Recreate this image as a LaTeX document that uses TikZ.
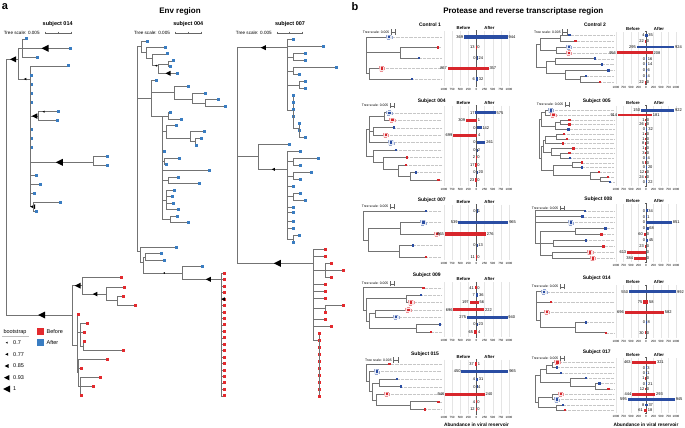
\documentclass[tikz,border=0pt]{standalone}
\usepackage{fontspec}
\setmainfont{Liberation Sans}
\definecolor{abl}{HTML}{3A7DC2}
\definecolor{ard}{HTML}{E32A2E}
\definecolor{bbl}{HTML}{2A4DA3}
\definecolor{brd}{HTML}{D8262C}
\newcounter{lf}
\newcommand{\bsc}{0.0325}
\newcommand{\gx}{441.5}
\newcommand{\bhh}{1.6}
% elbow to an inner node
\newcommand{\cla}[4]{\draw[br] (#1,#2) |- (#3,#4);}
% elbow to a leaf, panel a
\newcommand{\lfa}[5]{\draw[br] (#1,#2) |- (#3,#4);
  \stepcounter{lf}\node[leaf,fill=#5] (lf\thelf) at (#3,#4) {};}
% elbow to a leaf, panel b (plain and boxed)
\newcommand{\lfb}[5]{\draw[guide] (#3,#4) -- (\gx,#4);
  \draw[br] (#1,#2) |- (#3,#4);
  \stepcounter{lf}\node[sleaf,fill=#5] (lf\thelf) at (#3,#4) {};}
\newcommand{\lfbx}[5]{\draw[guide] (#3,#4) -- (\gx,#4);
  \draw[br] (#1,#2) |- (#3,#4);
  \draw[hbox,draw=#5!50,fill=#5!12] (#3-2.7,#4-2.2) rectangle (#3+2.7,#4+2.2);
  \stepcounter{lf}\node[sleaf,fill=#5] (lf\thelf) at (#3,#4) {};}
% bootstrap triangle
\newcommand{\btri}[3]{\fill (#1-#3/2,#2) -- (#1+#3/2,#2-#3/2) -- (#1+#3/2,#2+#3/2) -- cycle;}
% one bar: zero, y, before, after
\newcommand{\brow}[4]{%
  \pgfmathsetmacro{\xlb}{#1-#3*\bsc-0.5*(#3>0)}%
  \pgfmathsetmacro{\xrb}{#1+#4*\bsc+0.5*(#4>0)}%
  \ifnum#3>#4\relax\def\bcol{brd}\else\def\bcol{bbl}\fi
  \fill[fill=\bcol] (\xlb,#2-\bhh) rectangle (\xrb,#2+\bhh);
  \node[val,anchor=east] (vb) at (\xlb-0.7,#2) {#3};
  \node[val,anchor=west] (va) at (\xrb+0.7,#2) {#4};}
% bar frame: zero, heading y, tick y
\newcommand{\barax}[3]{%
  \foreach \k in {-4,...,4} {\draw[gline] ({\k*250*\bsc+#1},#2+3) -- ({\k*250*\bsc+#1},#3-3.5);}
  \foreach \k/\t in {-4/1000,-3/750,-2/500,-1/250,0/0,1/250,2/500,3/750,4/1000}
    {\node[ticklab] (tk\k) at ({\k*250*\bsc+#1},#3) {\t};}
  \draw[zaxis] (#1-0.9,#2+2.5) -- (#1+0.9,#2+2.5) (#1,#2+2.5) -- (#1,#3-3)
    (#1-0.9,#3-3) -- (#1+0.9,#3-3);
  \node[hd] (bf) at (#1-13,#2) {Before};
  \node[hd] (af) at (#1+13,#2) {After};}
\newcommand{\tsc}[2]{\node[tsc,anchor=west] (ts) at (#1,#2) {Tree scale: 0.005};
  \draw[scb,|-|] ([xshift=1.2pt]ts.east) -- ++(5,0);}
\newcommand{\tsbar}[3]{\draw[scb] (#1,#3) -- (#2,#3);
  \foreach \t in {#1,(#1+#2)/2,#2} {\draw[scb] ({\t},#3-1) -- ({\t},#3+1);}}

\begin{document}
\begin{tikzpicture}[x=1pt,y=-1pt,
    br/.style={draw=black!55,line width=0.55pt},
    leaf/.style={rectangle,inner sep=0pt,minimum size=3pt},
    sleaf/.style={rectangle,inner sep=0pt,minimum size=2.4pt},
    guide/.style={draw=black!22,densely dotted,line width=0.3pt},
    hbox/.style={densely dashed,line width=0.3pt},
    gline/.style={draw=black!10,line width=0.35pt},
    zaxis/.style={draw=black!65,line width=0.45pt},
    scb/.style={draw=black!60,line width=0.3pt},
    val/.style={inner sep=0pt,font=\fontsize{4}{4}\selectfont},
    ticklab/.style={inner sep=0pt,font=\fontsize{3}{3}\selectfont},
    hd/.style={inner sep=0pt,font=\bfseries\fontsize{4.3}{4.3}\selectfont},
    ttl/.style={inner sep=0pt,font=\bfseries\fontsize{5}{5}\selectfont},
    tsc/.style={inner sep=0pt,font=\fontsize{3.4}{3.4}\selectfont},
    tsa/.style={inner sep=0pt,font=\fontsize{4.6}{4.6}\selectfont},
    sub/.style={inner sep=0pt,font=\bfseries\fontsize{5.5}{5.5}\selectfont},
    hdr/.style={inner sep=0pt,font=\bfseries\fontsize{8}{8}\selectfont},
    plab/.style={inner sep=0pt,font=\bfseries\fontsize{11}{11}\selectfont},
    leg/.style={inner sep=0pt,font=\fontsize{5.5}{5.5}\selectfont},
    lgsq/.style={rectangle,inner sep=0pt,minimum size=7pt}]
\useasboundingbox (0,0) rectangle (685,428);

% ---------------- panel a ----------------
\node[plab] (pa) at (5,7) {a};
\node[hdr] (ha) at (180,11.7) {Env region};
\node[sub] (s14) at (57.7,24) {subject 014};
\node[sub] (s04) at (188.3,24) {subject 004};
\node[sub] (s07) at (290,24) {subject 007};
\node[tsa] (ts14) at (21.7,32.7) {Tree scale: 0.005};
\node[tsa] (ts04) at (152,32.7) {Tree scale: 0.005};
\node[tsa] (ts07) at (253.8,32.7) {Tree scale: 0.005};
\tsbar{45}{70.7}{32.7}
\tsbar{175}{200.7}{32.7}
\tsbar{276.7}{302.3}{32.7}

% subject 014
\cla{6.7}{187}{18.3}{59.3} \btri{13}{59.3}{6}
\cla{18.3}{59.3}{22.3}{48.3}
\lfa{22.3}{48.3}{26}{39}{abl} \lfa{22.3}{48.3}{70}{48.3}{abl} \btri{45}{48.3}{7}
\lfa{22.3}{48.3}{37.7}{57.3}{abl}
\cla{18.3}{59.3}{30.7}{79} \btri{25}{79}{2.5}
\lfa{30.7}{79}{68.3}{66}{abl}
\foreach \y in {75,84.3,93.3,102.3,129.3,138.3,147.7} {\lfa{30.7}{79}{31.2}{\y}{abl}}
\cla{30.7}{79}{38}{116} \btri{34.5}{116}{5.5}
\lfa{38}{116}{58.3}{111.7}{abl} \btri{43.5}{111.7}{2} \lfa{38}{116}{57.3}{120.7}{abl}
\cla{30.7}{79}{93.3}{162.3} \btri{59.3}{162.3}{7}
\lfa{93.3}{162.3}{107.3}{156.7}{abl} \lfa{93.3}{162.3}{107.3}{165.7}{abl}
\lfa{30.7}{79}{36.7}{175}{abl} \lfa{30.7}{79}{40}{184}{abl} \lfa{30.7}{79}{34}{193}{abl}
\cla{30.7}{79}{33.5}{206.7} \btri{32.7}{206.7}{5}
\lfa{33.5}{206.7}{60.7}{202}{abl} \lfa{33.5}{206.7}{36.7}{211}{abl}
\cla{6.7}{187}{72.3}{315} \btri{41.7}{315}{7}
\cla{72.3}{315}{82.3}{285.7} \btri{77.7}{285.7}{6}
\lfa{82.3}{285.7}{121}{277.3}{ard}
\cla{82.3}{285.7}{106}{294} \btri{95}{294}{4.5}
\lfa{106}{294}{124.3}{287}{ard}
\cla{106}{294}{117.3}{300.5}
\lfa{117.3}{300.5}{123.3}{296}{ard} \lfa{117.3}{300.5}{135.3}{305}{ard}
\cla{72.3}{315}{77.3}{345}
\lfa{77.3}{345}{78}{314.3}{ard}
\cla{77.3}{345}{80}{332}
\lfa{80}{332}{87.3}{323.3}{ard} \lfa{80}{332}{84}{332.3}{ard}
\cla{80}{332}{83.3}{345.8}
\lfa{83.3}{345.8}{84}{341.3}{ard} \lfa{83.3}{345.8}{123.7}{350.3}{ard}
\cla{77.3}{345}{78.5}{372}
\lfa{78.5}{372}{107.3}{359.7}{ard} \lfa{78.5}{372}{81}{368.7}{ard}
\cla{78.5}{372}{80.5}{386.7}
\lfa{80.5}{386.7}{100}{377.7}{ard} \lfa{80.5}{386.7}{93}{386.7}{ard} \lfa{80.5}{386.7}{81.7}{395.7}{ard}

% subject 004
\cla{137.3}{150}{141.7}{46.7} \cla{137.3}{150}{151.7}{98.3} \cla{137.3}{150}{140}{251}
\lfa{141.7}{46.7}{147.3}{41.7}{abl} \cla{141.7}{46.7}{146.7}{52.7}
\lfa{146.7}{52.7}{165}{47.7}{abl} \cla{146.7}{52.7}{152.7}{58}
\lfa{152.7}{58}{167.3}{54}{abl} \cla{152.7}{58}{158.3}{65.7} \btri{156}{65.7}{2}
\cla{158.3}{65.7}{168.3}{63.8}
\lfa{168.3}{63.8}{173.3}{61}{abl} \lfa{168.3}{63.8}{170}{66.7}{abl}
\lfa{158.3}{65.7}{177.3}{73.3}{abl} \btri{168}{73.3}{5}
\lfa{151.7}{98.3}{156.7}{80.3}{abl}
\cla{151.7}{98.3}{174}{92.3}
\lfa{174}{92.3}{188.3}{86.7}{abl} \cla{174}{92.3}{192.7}{99.5}
\lfa{192.7}{99.5}{205}{93.7}{abl} \cla{192.7}{99.5}{205}{103}
\lfa{205}{103}{218.3}{99.7}{abl} \lfa{205}{103}{225.3}{106.3}{abl}
\cla{151.7}{98.3}{162.3}{116.7}
\cla{162.3}{116.7}{168}{115.8}
\lfa{168}{115.8}{170.3}{112.7}{abl} \lfa{168}{115.8}{181.7}{119}{abl}
\cla{162.3}{116.7}{166.7}{131}
\lfa{166.7}{131}{176.7}{125.7}{abl} \cla{166.7}{131}{190}{138}
\lfa{190}{138}{204}{131.7}{abl} \cla{190}{138}{195}{141.5}
\lfa{195}{141.5}{201.3}{138}{abl} \lfa{195}{141.5}{196.7}{145}{abl}
\lfa{162.3}{116.7}{164.3}{151.7}{abl}
\cla{162.3}{116.7}{164.5}{161}
\lfa{164.5}{161}{179}{158}{abl} \lfa{164.5}{161}{166}{164.3}{abl}
\lfa{162.3}{116.7}{209.3}{170.7}{abl}
\cla{162.3}{116.7}{168}{180.5}
\lfa{168}{180.5}{178.3}{177.3}{abl} \lfa{168}{180.5}{199}{183.7}{abl}
\cla{162.3}{116.7}{166}{200}
\foreach \x/\y in {174/190.3,172.7/196.7,173.3/203.3,178.3/209.7} {\lfa{166}{200}{\x}{\y}{abl}}
\cla{162.3}{116.7}{170}{219.5}
\lfa{170}{219.5}{177.7}{216.7}{abl} \lfa{170}{219.5}{188.3}{222.3}{abl}
\lfa{140}{251}{176}{247}{abl}
\cla{140}{251}{143.3}{262}
\cla{143.3}{262}{145}{256.8}
\lfa{145}{256.8}{161.3}{253.7}{abl} \lfa{145}{256.8}{164.3}{260}{abl}
\cla{143.3}{262}{182.7}{273} \btri{164}{273}{1.6}
\lfa{182.7}{273}{202.3}{266.3}{abl}
\cla{182.7}{273}{221.7}{279.3} \btri{208.3}{279.3}{5}
\foreach \i in {0,...,19} {\lfa{221.7}{279.3}{224}{273.3+6.45*\i}{ard}}
\btri{223}{299}{3.5}

% subject 007
\cla{237.3}{160}{287.3}{47.7} \btri{263.3}{47.7}{5}
\cla{237.3}{160}{258.3}{156}
\cla{237.3}{160}{313.3}{263.3} \btri{277.3}{263.3}{7}
\lfa{287.3}{47.7}{293.3}{39.3}{abl} \lfa{287.3}{47.7}{323.3}{46.3}{abl}
\cla{287.3}{47.7}{293.3}{56.8}
\lfa{293.3}{56.8}{305.3}{53.3}{abl} \lfa{293.3}{56.8}{305.3}{60.3}{abl}
\cla{287.3}{47.7}{293.3}{70.8}
\lfa{293.3}{70.8}{336}{67.3}{abl} \lfa{293.3}{70.8}{299}{74.3}{abl}
\cla{287.3}{47.7}{299.3}{84.8}
\lfa{299.3}{84.8}{305.3}{81.3}{abl} \lfa{299.3}{84.8}{305.3}{88.3}{abl}
\cla{287.3}{47.7}{293.3}{110}
\foreach \y in {95.3,102.3,109.3,116.3} {\lfa{293.3}{110}{293.6}{\y}{abl}}
\cla{293.3}{110}{299}{128}
\lfa{299}{128}{299.6}{123.3}{abl} \lfa{299}{128}{299.6}{130.3}{abl} \lfa{299}{128}{305.3}{137}{abl}
\lfa{258.3}{156}{289.3}{144.3}{abl}
\cla{258.3}{156}{287.3}{169.3} \btri{273.3}{169.3}{3}
\lfa{287.3}{169.3}{300}{151.7}{abl}
\cla{287.3}{169.3}{293.3}{161.6}
\lfa{293.3}{161.6}{318.3}{158.3}{abl} \lfa{293.3}{161.6}{300}{165}{abl}
\cla{287.3}{169.3}{293.3}{175.8}
\lfa{293.3}{175.8}{311.7}{172.3}{abl} \lfa{293.3}{175.8}{300}{179.3}{abl}
\lfa{287.3}{169.3}{293.6}{186.3}{abl}
\cla{287.3}{169.3}{293.3}{196.5}
\lfa{293.3}{196.5}{300}{193}{abl} \lfa{293.3}{196.5}{305.3}{200}{abl}
\foreach \y in {207,212.7,221,228.3} {\lfa{287.3}{169.3}{293.6}{\y}{abl}}
\cla{287.3}{169.3}{293.3}{238.8}
\lfa{293.3}{238.8}{299.3}{235.3}{abl} \lfa{293.3}{238.8}{293.6}{242.3}{abl}
\lfa{313.3}{263.3}{325.3}{249}{ard} \lfa{313.3}{263.3}{325.3}{256}{ard}
\cla{313.3}{263.3}{325.3}{270}
\lfa{325.3}{270}{331}{263.3}{ard} \lfa{325.3}{270}{343}{270}{ard} \lfa{325.3}{270}{331}{277}{ard}
\foreach \y in {284,291,298} {\lfa{313.3}{263.3}{325.3}{\y}{ard}}
\cla{313.3}{263.3}{325.3}{308.5}
\lfa{325.3}{308.5}{343}{305}{ard} \lfa{325.3}{308.5}{325.6}{312}{ard}
\lfa{313.3}{263.3}{325.3}{319}{ard} \lfa{313.3}{263.3}{331}{326}{ard}
\cla{313.3}{263.3}{319}{340}
\foreach \i in {0,...,9} {\lfa{319}{340}{319.3}{333+7*\i}{ard}}

% legend
\node[leg] (bsl) at (15,331.7) {bootstrap};
\draw[black!25,line width=0.4pt] (2,335.8) -- (29,335.8);
\foreach \s/\v/\yy [count=\n] in {2/0.7/342.7,3/0.77/354.3,4/0.85/366,5.5/0.93/377.7,7/1/389}
  {\btri{6.7}{\yy}{\s} \node[leg,anchor=west] (bs\n) at (13,\yy) {\v};}
\node[lgsq,fill=ard] (kb) at (40.7,331.7) {};
\node[leg,anchor=west] (kbt) at (46.5,331.7) {Before};
\node[lgsq,fill=abl] (ka) at (40.7,342.7) {};
\node[leg,anchor=west] (kat) at (46.5,342.7) {After};

% ---------------- panel b ----------------
\node[plab] (pb) at (355,6.7) {b};
\node[hdr] (hb) at (523.3,11.7) {Protease and reverse transcriptase region};

% Control 1
\def\gx{441.5}\def\bhh{1.6}\def\bsc{0.0325}
\node[ttl] (c1) at (430,25) {Control 1};
\tsc{362.7}{32}
\lfbx{366}{55}{389}{37}{bbl}
\cla{366}{55}{400}{52.75}
\lfb{400}{52.75}{437.7}{47.5}{brd} \lfb{400}{52.75}{418.7}{58}{bbl}
\cla{366}{55}{369.3}{73.75}
\lfbx{369.3}{73.75}{381.7}{68.5}{brd} \lfb{369.3}{73.75}{412}{79}{bbl}
\barax{476.5}{28}{89.3}
\foreach \vb/\va [count=\i from 0] in {369/944,13/0,0/24,867/357,6/32}
  {\brow{476.5}{37+10.5*\i}{\vb}{\va}}

% Control 2
\def\gx{614}\def\bhh{1.4}\def\bsc{0.030}
\node[ttl] (c2) at (595,25) {Control 2};
\tsc{534}{32}
\cla{536}{56}{540}{44.1} \cla{536}{56}{546.7}{67.5}
\cla{540}{44.1}{560}{38.2} \cla{540}{44.1}{556.7}{49.9}
\lfb{560}{38.2}{569.3}{35.3}{bbl} \lfb{560}{38.2}{575.3}{41.15}{brd}
\lfbx{556.7}{49.9}{568.7}{47}{bbl} \lfbx{556.7}{49.9}{568.7}{52.85}{brd}
\cla{546.7}{67.5}{555}{61.6} \cla{546.7}{67.5}{565}{73.3}
\lfb{555}{61.6}{595}{58.7}{bbl} \lfb{555}{61.6}{601.7}{64.55}{bbl}
\lfb{565}{73.3}{608.3}{70.4}{bbl} \cla{565}{73.3}{580}{79.2}
\lfb{580}{79.2}{585.7}{76.25}{bbl} \lfb{580}{79.2}{600}{82.1}{brd}
\barax{646}{29}{87}
\foreach \vb/\va [count=\i from 0] in {4/35,22/0,295/924,956/208,0/16,0/14,0/6,0/4,22/0}
  {\brow{646}{35.3+5.85*\i}{\vb}{\va}}

% Subject 004
\def\gx{441.5}\def\bhh{1.6}\def\bsc{0.0325}
\node[ttl] (s4) at (431.7,101) {Subject 004};
\tsc{361.7}{105.7}
\cla{366.7}{142}{369.3}{129} \cla{366.7}{142}{373}{156}
\cla{369.3}{129}{384}{116.44}
\lfbx{384}{116.44}{389.3}{112.7}{bbl} \lfbx{384}{116.44}{392.3}{120.18}{brd}
\cla{369.3}{129}{373}{131.4}
\lfb{373}{131.4}{394}{127.66}{bbl} \lfbx{373}{131.4}{385.7}{135.14}{brd}
\lfbx{369.3}{129}{391}{142.62}{bbl}
\lfb{373}{156}{396}{150.1}{bbl} \cla{373}{156}{383.3}{162}
\lfb{383.3}{162}{407}{157.58}{brd} \cla{383.3}{162}{398.7}{168.8}
\lfb{398.7}{168.8}{406}{165.06}{brd} \cla{398.7}{168.8}{410}{176.28}
\lfb{410}{176.28}{415.7}{172.54}{bbl} \lfb{410}{176.28}{438.3}{180.02}{brd}
\barax{476.5}{102.7}{189}
\foreach \vb/\va [count=\i from 0] in {17/575,309/1,0/142,699/4,0/261,0/2,2/0,17/0,0/20,23/0}
  {\brow{476.5}{112.7+7.48*\i}{\vb}{\va}}

% Subject 005
\def\gx{614}\def\bhh{1.3}\def\bsc{0.030}
\node[ttl] (s5) at (596.7,101) {Subject 005};
\tsc{536.7}{104.7}
\cla{539}{138}{541}{119} \cla{539}{138}{541.5}{158}
\cla{541}{119}{545}{112.68}
\lfbx{545}{112.68}{550.7}{110.3}{bbl} \lfbx{545}{112.68}{553.3}{115.06}{brd}
\cla{541}{119}{555}{125.8} \cla{555}{125.8}{560}{122.2}
\lfb{560}{122.2}{569.3}{119.82}{brd} \lfb{560}{122.2}{569.3}{124.58}{brd}
\lfb{555}{125.8}{568.3}{129.34}{bbl}
\cla{541.5}{158}{543.5}{146} \cla{541.5}{158}{553}{170.4}
\cla{543.5}{146}{545}{140} \cla{543.5}{146}{551}{152}
\cla{545}{140}{556}{136.48}
\lfb{556}{136.48}{564}{134.1}{brd} \lfb{556}{136.48}{566.7}{138.86}{brd}
\lfb{545}{140}{562.7}{143.62}{brd}
\lfb{551}{152}{573.3}{148.38}{brd} \cla{551}{152}{560}{155.52}
\lfb{560}{155.52}{569.3}{153.14}{brd} \lfb{560}{155.52}{570}{157.9}{bbl}
\cla{553}{170.4}{572}{165.04}
\lfb{572}{165.04}{581.7}{162.66}{brd} \lfb{572}{165.04}{581.7}{167.42}{bbl}
\cla{553}{170.4}{590}{175.7}
\lfb{590}{175.7}{598.7}{172.18}{brd} \cla{590}{175.7}{600}{179.32}
\lfb{600}{179.32}{608}{176.94}{brd} \lfb{600}{179.32}{610}{181.7}{bbl}
\barax{646}{102.7}{189.3}
\foreach \vb/\va [count=\i from 0] in {150/922,914/181,1/0,26/0,0/32,1/0,1/0,8/0,1/0,3/0,0/4,5/0,0/20,12/0,24/0,0/22}
  {\brow{646}{110.3+4.76*\i}{\vb}{\va}}

% Subject 007
\def\gx{441.5}\def\bhh{1.6}\def\bsc{0.0325}
\node[ttl] (s7) at (431.7,200) {Subject 007};
\tsc{361.7}{206.7}
\lfb{363.3}{225}{426}{211}{bbl} \cla{363.3}{225}{368.3}{240}
\cla{368.3}{240}{400}{228.25}
\lfbx{400}{228.25}{423.3}{222.5}{bbl} \lfbx{400}{228.25}{436.7}{234}{brd}
\cla{368.3}{240}{399.3}{251.25}
\lfb{399.3}{251.25}{412.7}{245.5}{bbl} \lfb{399.3}{251.25}{426}{257}{brd}
\barax{476.5}{201.7}{263.3}
\foreach \vb/\va [count=\i from 0] in {0/1,539/965,965/276,0/13,11/0}
  {\brow{476.5}{211+11.5*\i}{\vb}{\va}}

% Subject 008
\def\gx{614}\def\bhh{1.4}\def\bsc{0.030}
\node[ttl] (s8) at (598.3,199) {Subject 008};
\tsc{531.7}{208.3}
\lfb{535}{227}{585}{210.7}{bbl} \lfb{535}{227}{582.3}{216.65}{bbl}
\lfbx{535}{227}{570.7}{222.6}{bbl} \cla{535}{227}{540}{243.4}
\cla{540}{243.4}{575}{231.5}
\lfb{575}{231.5}{605.3}{228.55}{bbl} \lfb{575}{231.5}{601.3}{234.5}{brd}
\cla{540}{243.4}{553.3}{243.4}
\lfb{553.3}{243.4}{586}{240.45}{bbl} \lfb{553.3}{243.4}{603.3}{246.4}{brd}
\cla{540}{243.4}{552.7}{255.3}
\lfbx{552.7}{255.3}{590}{252.35}{brd} \lfbx{552.7}{255.3}{592.7}{258.3}{brd}
\barax{646}{201}{265.7}
\foreach \vb/\va [count=\i from 0] in {0/34,0/1,0/851,0/68,60/0,0/45,23/0,613/0,384/0}
  {\brow{646}{210.7+5.95*\i}{\vb}{\va}}

% Subject 009
\def\gx{441.5}\def\bhh{1.6}\def\bsc{0.0325}
\node[ttl] (s9) at (426.7,275) {Subject 009};
\tsc{361.7}{283.7}
\lfb{363.3}{299}{423.3}{287.7}{brd} \cla{363.3}{299}{366}{310}
\cla{366}{310}{406.7}{298.77}
\lfb{406.7}{298.77}{421}{295.08}{bbl} \lfbx{406.7}{298.77}{411}{302.46}{brd}
\cla{366}{310}{369.3}{321}
\cla{369.3}{321}{375}{313.53}
\lfbx{375}{313.53}{408.3}{309.84}{brd} \lfbx{375}{313.53}{396}{317.22}{bbl}
\cla{369.3}{321}{416}{328.29}
\lfb{416}{328.29}{440}{324.6}{bbl} \lfb{416}{328.29}{430.7}{331.98}{brd}
\barax{476.5}{279.3}{340.7}
\foreach \vb/\va [count=\i from 0] in {41/0,7/36,197/56,696/222,275/940,0/23,65/4}
  {\brow{476.5}{287.7+7.38*\i}{\vb}{\va}}

% Subject 014
\def\gx{614}\def\bhh{1.6}\def\bsc{0.030}
\node[ttl] (s14b) at (596.7,278.3) {Subject 014};
\tsc{531.7}{286.7}
\lfbx{536}{306}{544}{291.7}{bbl} \lfb{536}{306}{551}{301.95}{brd}
\cla{536}{306}{540}{320}
\lfbx{540}{320}{546.7}{312.2}{brd} \cla{540}{320}{575}{327.58}
\lfb{575}{327.58}{585.7}{322.45}{bbl} \lfb{575}{327.58}{605.7}{332.7}{brd}
\barax{646}{282.3}{341.7}
\foreach \vb/\va [count=\i from 0] in {550/992,75/58,696/582,0/8,30/0}
  {\brow{646}{291.7+10.25*\i}{\vb}{\va}}

% Subject 015
\def\gx{441.5}\def\bhh{1.6}\def\bsc{0.0325}
\node[ttl] (s15) at (425,354) {Subject 015};
\tsc{365}{360}
\lfb{366.7}{372.7}{389.3}{364}{brd} \cla{366.7}{372.7}{369.3}{381.4}
\lfbx{369.3}{381.4}{376.7}{371.55}{bbl} \cla{369.3}{381.4}{372}{391.3}
\cla{372}{391.3}{379.3}{382.88}
\lfb{379.3}{382.88}{396.7}{379.1}{bbl} \lfb{379.3}{382.88}{401}{386.65}{bbl}
\cla{372}{391.3}{376}{399.8}
\lfbx{376}{399.8}{386.7}{394.2}{brd} \cla{376}{399.8}{410}{405.53}
\lfb{410}{405.53}{438.3}{401.75}{brd} \lfb{410}{405.53}{425}{409.3}{brd}
\barax{476.5}{356.7}{417.3}
\foreach \vb/\va [count=\i from 0] in {37/1,450/965,4/31,0/4,946/240,4/0,12/0}
  {\brow{476.5}{364+7.55*\i}{\vb}{\va}}
\node[ttl,font=\bfseries\fontsize{4.8}{4.8}\selectfont] (ab1) at (476.5,424.5) {Abundance in viral reservoir};

% Subject 017
\def\gx{614}\def\bhh{1.4}\def\bsc{0.030}
\node[ttl] (s17) at (596.7,352.7) {Subject 017};
\tsc{531.7}{358.3}
\cla{535}{389}{540}{375.6} \cla{535}{389}{538}{402.3}
\cla{540}{375.6}{546.7}{369} \cla{540}{375.6}{570}{382.3}
\cla{546.7}{369}{552}{364.97}
\lfbx{552}{364.97}{557.3}{362.3}{brd} \lfb{552}{364.97}{556.7}{367.63}{bbl}
\lfb{546.7}{369}{560.7}{372.96}{bbl}
\lfb{570}{382.3}{586}{378.29}{bbl} \cla{570}{382.3}{595}{386.29}
\lfb{595}{386.29}{599.3}{383.62}{bbl} \lfb{595}{386.29}{608.3}{388.95}{brd}
\cla{538}{402.3}{552}{396.95}
\lfbx{552}{396.95}{560.7}{394.28}{brd} \lfbx{552}{396.95}{556.7}{399.61}{bbl}
\cla{538}{402.3}{556}{407.6}
\lfb{556}{407.6}{562.7}{404.94}{bbl} \lfb{556}{407.6}{565}{410.27}{brd}
\barax{646}{355}{416.7}
\foreach \vb/\va [count=\i from 0] in {463/321,0/3,0/1,1/0,0/21,12/0,444/293,595/945,8/37,61/18}
  {\brow{646}{362.3+5.33*\i}{\vb}{\va}}
\node[ttl,font=\bfseries\fontsize{4.8}{4.8}\selectfont] (ab2) at (646,424.5) {Abundance in viral reservoir};
\end{tikzpicture}
\end{document}
